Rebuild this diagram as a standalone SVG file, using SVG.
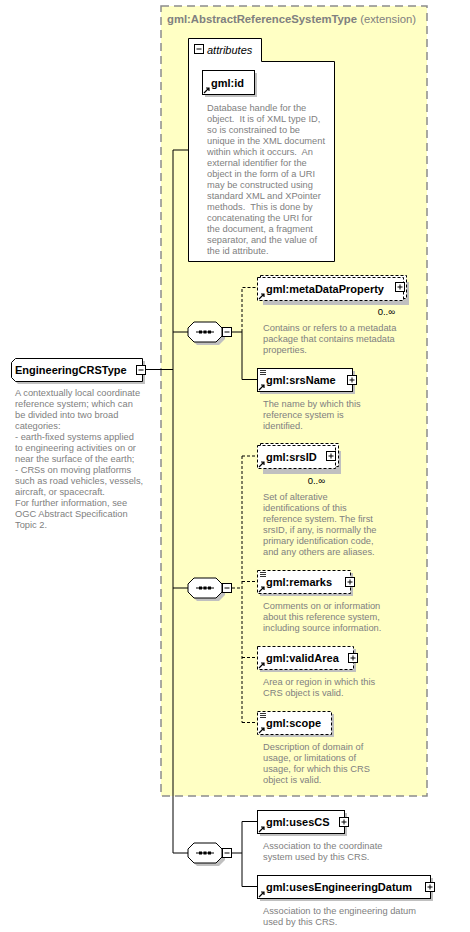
<svg xmlns="http://www.w3.org/2000/svg" width="470" height="932" viewBox="0 0 470 932">
<style>
.lbl{font-family:"Liberation Sans",Arial,sans-serif;font-size:11px;font-weight:bold;fill:#000}
.desc{font-family:"Liberation Sans",Arial,sans-serif;font-size:9.3px;fill:#808080;white-space:pre}
.mult{font-family:"Liberation Sans",Arial,sans-serif;font-size:9.5px;fill:#000}
.box{fill:#fff;stroke:#000;stroke-width:1}
.dbox{fill:#fff;stroke:#000;stroke-width:1;stroke-dasharray:3,2}
.sh{fill:#c0c0c0}
.ln{fill:none;stroke:#000;stroke-width:1}
.dln{fill:none;stroke:#000;stroke-width:1;stroke-dasharray:3,2}
</style>
<defs>
<g id="plus"><rect x="0.5" y="0.5" width="9" height="9" fill="#fff" stroke="#000"/><path d="M2.5 5H7.5M5 2.5V7.5" stroke="#000"/></g>
<g id="minus"><rect x="0.5" y="0.5" width="9" height="9" fill="#fff" stroke="#000"/><path d="M2.5 5H7.5" stroke="#000"/></g>
<g id="arr"><path d="M1 7L6 2M3 2H6V5" fill="none" stroke="#000" stroke-width="1.2"/></g>
<g id="eq"><path d="M0 0.5H6M0 2.5H6M0 4.5H6" stroke="#000" stroke-width="0.8"/></g>
<g id="seq"><polygon points="6,0 28,0 34,6 34,14 28,20 6,20 0,14 0,6" transform="translate(3,3)" fill="#c0c0c0"/><polygon points="6,0 28,0 34,6 34,14 28,20 6,20 0,14 0,6" fill="#fff" stroke="#000"/><path d="M8 10H26" stroke="#000"/><rect x="11" y="8.5" width="3" height="3" fill="#000"/><rect x="15.5" y="8.5" width="3" height="3" fill="#000"/><rect x="20" y="8.5" width="3" height="3" fill="#000"/></g>
</defs>

<g id="extension">
<rect x="161" y="6" width="266" height="790" fill="#ffffc4" stroke="#8c8c8c" stroke-width="1.5" stroke-dasharray="8,5"/>
<text x="167" y="23" font-family="Liberation Sans,Arial,sans-serif" font-size="11.3px" fill="#808080"><tspan font-weight="bold">gml:AbstractReferenceSystemType</tspan> (extension)</text>
</g>

<g id="connectors">
<path class="ln" d="M146 369.5H173M173 150V853M173 150H188M173 332H188M173 588H188M173 853H188"/>
<path class="ln" d="M232 332H242V379.5H257"/>
<path class="dln" d="M242 332V287.5H257"/>
<path class="dln" d="M232 588H242M242 456V722.5M242 456H257M242 581.5H257M242 657.5H257M242 722.5H257"/>
<path class="ln" d="M232 853H242M242 821.5V886.5M242 821.5H257M242 886.5H257"/>
</g>

<g id="attributes">
<path d="M188.5 38.5H261.5V61.5H334.5V261.5H188.5Z" fill="#fff" stroke="#000"/>
<use href="#minus" x="194" y="44"/>
<text x="207" y="54" font-family="Liberation Sans,Arial,sans-serif" font-size="11px" font-style="italic">attributes</text>
</g>

<g id="gml-id">
<rect x="205" y="73" width="52" height="24" class="sh"/>
<rect x="202.5" y="70.5" width="52" height="24" class="box"/>
<use href="#arr" x="203" y="86"/>
<text x="211" y="87" class="lbl">gml:id</text>
<text class="desc" xml:space="preserve"><tspan x="207" y="111">Database handle for the</tspan><tspan x="207" y="122">object.  It is of XML type ID,</tspan><tspan x="207" y="133">so is constrained to be</tspan><tspan x="207" y="144">unique in the XML document</tspan><tspan x="207" y="155">within which it occurs.  An</tspan><tspan x="207" y="166">external identifier for the</tspan><tspan x="207" y="177">object in the form of a URI</tspan><tspan x="207" y="188">may be constructed using</tspan><tspan x="207" y="199">standard XML and XPointer</tspan><tspan x="207" y="210">methods.  This is done by</tspan><tspan x="207" y="221">concatenating the URI for</tspan><tspan x="207" y="232">the document, a fragment</tspan><tspan x="207" y="243">separator, and the value of</tspan><tspan x="207" y="254">the id attribute.</tspan></text>
</g>

<g id="EngineeringCRSType">
<polygon points="18,361 145,361 145,384 18,384 14,380 14,365" class="sh"/>
<polygon points="15.5,358.5 142.5,358.5 142.5,381.5 15.5,381.5 11.5,377.5 11.5,362.5" class="box"/>
<text x="15" y="374" class="lbl">EngineeringCRSType</text>
<use href="#minus" x="136" y="365"/>
<text class="desc"><tspan x="15" y="396">A contextually local coordinate</tspan><tspan x="15" y="407">reference system; which can</tspan><tspan x="15" y="418">be divided into two broad</tspan><tspan x="15" y="429">categories:</tspan><tspan x="15" y="440">- earth-fixed systems applied</tspan><tspan x="15" y="451">to engineering activities on or</tspan><tspan x="15" y="462">near the surface of the earth;</tspan><tspan x="15" y="473">- CRSs on moving platforms</tspan><tspan x="15" y="484">such as road vehicles, vessels,</tspan><tspan x="15" y="495">aircraft, or spacecraft.</tspan><tspan x="15" y="506">For further information, see</tspan><tspan x="15" y="517">OGC Abstract Specification</tspan><tspan x="15" y="528">Topic 2.</tspan></text>
</g>

<g id="sequence1"><use href="#seq" x="188" y="322"/><use href="#minus" x="222" y="327"/></g>
<g id="sequence2"><use href="#seq" x="188" y="578"/><use href="#minus" x="222" y="583"/></g>
<g id="sequence3"><use href="#seq" x="188" y="843"/><use href="#minus" x="222" y="848"/></g>

<g id="metaDataProperty">
<rect x="263" y="282" width="146" height="23" class="sh"/>
<rect x="260.5" y="275.5" width="146" height="23" class="dbox"/>
<rect x="257.5" y="277.5" width="146" height="23" class="dbox"/>
<use href="#arr" x="258" y="292"/>
<text x="266" y="293" class="lbl">gml:metaDataProperty</text>
<use href="#plus" x="395" y="282"/>
<text x="395" y="315" class="mult" text-anchor="end">0..∞</text>
<text class="desc"><tspan x="263" y="331">Contains or refers to a metadata</tspan><tspan x="263" y="342">package that contains metadata</tspan><tspan x="263" y="353">properties.</tspan></text>
</g>

<g id="srsName">
<rect x="260" y="371" width="95" height="23" class="sh"/>
<rect x="257.5" y="368.5" width="95" height="23" class="box"/>
<use href="#eq" x="260" y="370"/>
<use href="#arr" x="258" y="383"/>
<text x="266" y="384" class="lbl">gml:srsName</text>
<use href="#plus" x="347" y="375"/>
<text class="desc"><tspan x="263" y="407">The name by which this</tspan><tspan x="263" y="418">reference system is</tspan><tspan x="263" y="429">identified.</tspan></text>
</g>

<g id="srsID">
<rect x="263" y="451" width="78" height="23" class="sh"/>
<rect x="260.5" y="443.5" width="78" height="23" class="dbox"/>
<rect x="257.5" y="445.5" width="78" height="23" class="dbox"/>
<use href="#arr" x="258" y="460"/>
<text x="266" y="461" class="lbl">gml:srsID</text>
<use href="#plus" x="326" y="451"/>
<text x="325" y="484" class="mult" text-anchor="end">0..∞</text>
<text class="desc"><tspan x="263" y="500">Set of alterative</tspan><tspan x="263" y="511">identifications of this</tspan><tspan x="263" y="522">reference system. The first</tspan><tspan x="263" y="533">srsID, if any, is normally the</tspan><tspan x="263" y="544">primary identification code,</tspan><tspan x="263" y="555">and any others are aliases.</tspan></text>
</g>

<g id="remarks">
<rect x="260" y="573" width="93" height="23" class="sh"/>
<rect x="257.5" y="570.5" width="93" height="23" class="dbox"/>
<use href="#eq" x="260" y="572"/>
<use href="#arr" x="258" y="585"/>
<text x="266" y="586" class="lbl">gml:remarks</text>
<use href="#plus" x="345" y="577"/>
<text class="desc"><tspan x="263" y="609">Comments on or information</tspan><tspan x="263" y="620">about this reference system,</tspan><tspan x="263" y="631">including source information.</tspan></text>
</g>

<g id="validArea">
<rect x="260" y="649" width="96" height="23" class="sh"/>
<rect x="257.5" y="646.5" width="96" height="23" class="dbox"/>
<use href="#arr" x="258" y="661"/>
<text x="266" y="662" class="lbl">gml:validArea</text>
<use href="#plus" x="348" y="653"/>
<text class="desc"><tspan x="263" y="685">Area or region in which this</tspan><tspan x="263" y="696">CRS object is valid.</tspan></text>
</g>

<g id="scope">
<rect x="260" y="714" width="74" height="23" class="sh"/>
<rect x="257.5" y="711.5" width="74" height="23" class="dbox"/>
<use href="#eq" x="260" y="713"/>
<use href="#arr" x="258" y="726"/>
<text x="266" y="727" class="lbl">gml:scope</text>
<text class="desc"><tspan x="263" y="750">Description of domain of</tspan><tspan x="263" y="761">usage, or limitations of</tspan><tspan x="263" y="772">usage, for which this CRS</tspan><tspan x="263" y="783">object is valid.</tspan></text>
</g>

<g id="usesCS">
<rect x="260" y="813" width="87" height="23" class="sh"/>
<rect x="257.5" y="810.5" width="87" height="23" class="box"/>
<use href="#arr" x="258" y="825"/>
<text x="266" y="826" class="lbl">gml:usesCS</text>
<use href="#plus" x="339" y="817"/>
<text class="desc"><tspan x="263" y="849">Association to the coordinate</tspan><tspan x="263" y="860">system used by this CRS.</tspan></text>
</g>

<g id="usesEngineeringDatum">
<rect x="260" y="878" width="173" height="23" class="sh"/>
<rect x="257.5" y="875.5" width="173" height="23" class="box"/>
<use href="#arr" x="258" y="890"/>
<text x="266" y="891" class="lbl">gml:usesEngineeringDatum</text>
<use href="#plus" x="425" y="882"/>
<text class="desc"><tspan x="263" y="914">Association to the engineering datum</tspan><tspan x="263" y="925">used by this CRS.</tspan></text>
</g>
</svg>
